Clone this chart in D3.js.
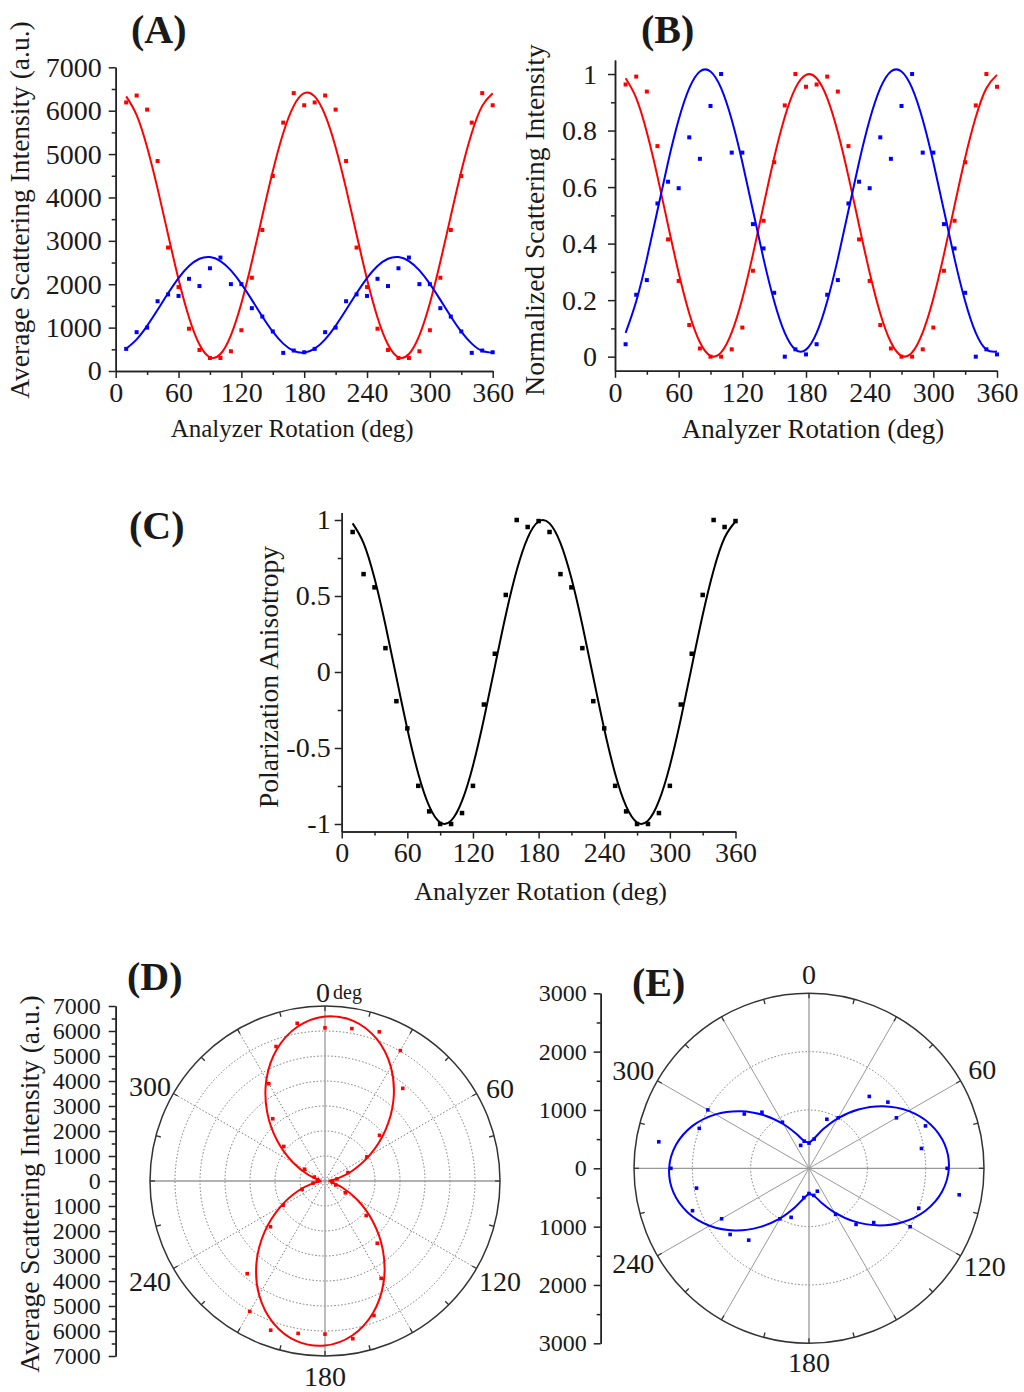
<!DOCTYPE html>
<html>
<head>
<meta charset="UTF-8">
<title>Analyzer rotation - scattering intensity</title>
<script src="https://d3js.org/d3.v7.min.js"></script>
<style>
  body { margin: 0; background: #fff; }
  svg text { font-family: "Liberation Serif", "Times New Roman", serif; fill: #1a1a1a; }
  .axis path, .axis line { stroke: #222; stroke-width: 1.5; fill: none; }
  .fit { fill: none; stroke-width: 2; }
</style>
</head>
<body>
<script>
// analyzer angles of the measured points (deg)
var angles = [10, 20, 30, 40, 50, 60, 70, 80, 90, 100, 110, 120, 130, 140, 150, 160, 170, 180,
              190, 200, 210, 220, 230, 240, 250, 260, 270, 280, 290, 300, 310, 320, 330, 340, 350, 360];
// angles at which the polar fit curves are sampled
var polarAngles = [0, 10, 20, 30, 40, 50, 60, 70, 80, 90, 100, 110, 120, 130, 140, 150, 160, 170,
                   180, 190, 200, 210, 220, 230, 240, 250, 260, 270, 280, 290, 300, 310, 320, 330, 340, 350];

// (A), (D) red measured intensity
var redIntensity = [6190, 6350, 6025, 4840, 2845, 1935, 975, 485, 300, 300, 455, 940, 2150, 3250, 4495, 5725, 6405, 6125,
                    6190, 6350, 6025, 4840, 2845, 1935, 975, 485, 300, 300, 455, 940, 2150, 3250, 4495, 5725, 6405, 6125];
// (A), (E) blue measured intensity
var blueIntensity = [510, 895, 1000, 1608, 1765, 1730, 2125, 1958, 2368, 2615, 2002, 2002, 1448, 1255, 912, 418, 472, 432,
                     510, 895, 1000, 1608, 1765, 1730, 2125, 1958, 2368, 2615, 2002, 2002, 1448, 1255, 912, 418, 472, 432];
// (A) fitted curves
var redFitA = [6329, 5897, 5159, 4204, 3146, 2115, 1234, 609, 316, 391, 823, 1561, 2516, 3574, 4605, 5486, 6111, 6404,
               6329, 5897, 5159, 4204, 3146, 2115, 1234, 609, 316, 391, 823, 1561, 2516, 3574, 4605, 5486, 6111, 6404];
var blueFitA = [515, 730, 1041, 1410, 1792, 2143, 2419, 2587, 2627, 2534, 2320, 2009, 1640, 1258, 907, 631, 463, 423,
                515, 730, 1041, 1410, 1792, 2143, 2419, 2587, 2627, 2534, 2320, 2009, 1640, 1258, 907, 631, 463, 423];

// (B) normalized
var redNorm = [0.963, 0.991, 0.938, 0.745, 0.415, 0.268, 0.112, 0.029, 0.0, 0.0, 0.026, 0.103, 0.304, 0.481, 0.688, 0.889, 1.0, 0.955,
               0.963, 0.991, 0.938, 0.745, 0.415, 0.268, 0.112, 0.029, 0.0, 0.0, 0.026, 0.103, 0.304, 0.481, 0.688, 0.889, 1.0, 0.955];
var blueNorm = [0.044, 0.219, 0.271, 0.542, 0.619, 0.596, 0.776, 0.700, 0.887, 1.0, 0.722, 0.722, 0.469, 0.383, 0.226, 0.0, 0.026, 0.008,
                0.044, 0.219, 0.271, 0.542, 0.619, 0.596, 0.776, 0.700, 0.887, 1.0, 0.722, 0.722, 0.469, 0.383, 0.226, 0.0, 0.026, 0.008];
var redFitB = [0.985, 0.915, 0.794, 0.638, 0.465, 0.297, 0.153, 0.051, 0.003, 0.015, 0.086, 0.206, 0.362, 0.535, 0.704, 0.848, 0.950, 0.997,
               0.985, 0.915, 0.794, 0.638, 0.465, 0.297, 0.153, 0.051, 0.003, 0.015, 0.086, 0.206, 0.362, 0.535, 0.704, 0.848, 0.950, 0.997];
var blueFitB = [0.084, 0.196, 0.346, 0.517, 0.688, 0.838, 0.950, 1.009, 1.009, 0.950, 0.838, 0.688, 0.517, 0.346, 0.196, 0.084, 0.025, 0.025,
                0.084, 0.196, 0.346, 0.517, 0.688, 0.838, 0.950, 1.009, 1.009, 0.950, 0.838, 0.688, 0.517, 0.346, 0.196, 0.084, 0.025, 0.018];

// (C) polarization anisotropy
var anisotropy = [0.921, 0.644, 0.557, 0.157, -0.192, -0.371, -0.749, -0.917, -1.0, -1.0, -0.928, -0.749, -0.214, 0.120, 0.507, 1.0, 0.954, 0.993,
                  0.921, 0.644, 0.557, 0.157, -0.192, -0.371, -0.749, -0.917, -1.0, -1.0, -0.928, -0.749, -0.214, 0.120, 0.507, 1.0, 0.954, 0.993];
var anisoFit = [0.978, 0.848, 0.616, 0.309, -0.035, -0.375, -0.669, -0.883, -0.990, -0.978, -0.848, -0.616, -0.309, 0.035, 0.375, 0.669, 0.883, 0.990,
                0.978, 0.848, 0.616, 0.309, -0.035, -0.375, -0.669, -0.883, -0.990, -0.978, -0.848, -0.616, -0.309, 0.035, 0.375, 0.669, 0.883, 0.990];

// (D), (E) polar fits
var redFitPolar = [6582, 6504, 6048, 5270, 4264, 3150, 2063, 1135, 476, 168, 246, 701, 1479, 2486, 3600, 4687, 5615, 6274,
                   6582, 6504, 6048, 5270, 4264, 3150, 2063, 1135, 476, 168, 246, 701, 1479, 2486, 3600, 4687, 5615, 6274];
var blueFitPolar = [442, 525, 715, 990, 1317, 1657, 1968, 2213, 2362, 2398, 2315, 2125, 1850, 1522, 1183, 872, 627, 478,
                    442, 525, 715, 990, 1317, 1657, 1968, 2213, 2362, 2398, 2315, 2125, 1850, 1522, 1183, 872, 627, 478];

// tick labels
var xTicks = [0, 60, 120, 180, 240, 300, 360];
var xMinor = [30, 90, 150, 210, 270, 330];
var polarLabels = [0, 60, 120, 180, 240, 300];

var RED = "#ff0000", BLUE = "#0000ff";

var svg = d3.select("body").append("svg")
    .attr("width", 1024)
    .attr("height", 1392)
    .style("background", "#fff");

function zip(xs, ys) {
    return xs.map(function (d, i) { return [d, ys[i]]; });
}

function styleAxis(g, size) {
    g.attr("font-family", null).attr("font-size", size);
    g.selectAll("text").attr("font-size", size);
}

// cartesian panel
function cartPanel(o) {
    var g = svg.append("g");
    var x = d3.scaleLinear().domain([0, 360]).range([o.x0, o.x1]);
    var y = d3.scaleLinear().domain(o.yDomain).range([o.yBottom, o.yTop]);

    g.append("g").attr("class", "axis")
        .attr("transform", "translate(0," + o.yBottom + ")")
        .call(d3.axisBottom(x).tickValues(xTicks).tickSize(7).tickSizeOuter(0).tickPadding(4))
        .call(styleAxis, 28);
    g.append("g").attr("class", "axis")
        .attr("transform", "translate(0," + o.yBottom + ")")
        .call(d3.axisBottom(x).tickValues(xMinor).tickSize(4).tickSizeOuter(0).tickFormat(""));

    g.append("g").attr("class", "axis")
        .attr("transform", "translate(" + o.x0 + ",0)")
        .call(d3.axisLeft(y).tickValues(o.yTicks).tickSize(7).tickSizeOuter(0)
            .tickPadding(o.yPad).tickFormat(function (d) { return String(d); }))
        .call(styleAxis, 28);
    g.append("g").attr("class", "axis")
        .attr("transform", "translate(" + o.x0 + ",0)")
        .call(d3.axisLeft(y).tickValues(o.yMinor).tickSize(4).tickSizeOuter(0).tickFormat(""));

    var line = d3.line()
        .x(function (d) { return x(d[0]); })
        .y(function (d) { return y(d[1]); })
        .curve(d3.curveNatural);

    o.series.forEach(function (s) {
        g.append("path").attr("class", "fit")
            .attr("d", line(zip(angles, s.fit)))
            .attr("stroke", s.color);
        g.append("g").selectAll("rect")
            .data(zip(angles, s.points))
            .enter().append("rect")
            .attr("x", function (d) { return x(d[0]) - s.size / 2; })
            .attr("y", function (d) { return y(d[1]) - s.size / 2; })
            .attr("width", s.size)
            .attr("height", s.size)
            .attr("fill", s.color);
    });

    g.append("text")
        .attr("x", (o.x0 + o.x1) / 2 + o.xTitleDx)
        .attr("y", o.xTitleY)
        .attr("text-anchor", "middle")
        .attr("font-size", o.xTitleSize)
        .text("Analyzer Rotation (deg)");
    g.append("text")
        .attr("transform", "translate(" + o.yTitleX + "," + o.yTitleY + ") rotate(-90)")
        .attr("text-anchor", "middle")
        .attr("font-size", 27.5)
        .text(o.yTitle);
}

cartPanel({
    x0: 115.7, x1: 492.7, yTop: 67.3, yBottom: 371,
    yDomain: [0, 7000],
    yTicks: [0, 1000, 2000, 3000, 4000, 5000, 6000, 7000],
    yMinor: [500, 1500, 2500, 3500, 4500, 5500, 6500],
    yPad: 7,
    series: [
        { points: redIntensity, fit: redFitA, color: RED, size: 4 },
        { points: blueIntensity, fit: blueFitA, color: BLUE, size: 4 }
    ],
    xTitleDx: -12, xTitleY: 437, xTitleSize: 25,
    yTitle: "Average Scattering Intensity (a.u.)", yTitleX: 29, yTitleY: 210
});

cartPanel({
    x0: 615, x1: 997, yTop: 59.9, yBottom: 370.8,
    yDomain: [-0.05, 1.05],
    yTicks: [0, 0.2, 0.4, 0.6, 0.8, 1],
    yMinor: [0.1, 0.3, 0.5, 0.7, 0.9],
    yPad: 11,
    series: [
        { points: redNorm, fit: redFitB, color: RED, size: 4 },
        { points: blueNorm, fit: blueFitB, color: BLUE, size: 4 }
    ],
    xTitleDx: 7, xTitleY: 438, xTitleSize: 27,
    yTitle: "Normalized Scattering Intensity", yTitleX: 544, yTitleY: 220
});

cartPanel({
    x0: 341.7, x1: 735.5, yTop: 512.4, yBottom: 831.6,
    yDomain: [-1.05, 1.05],
    yTicks: [-1, -0.5, 0, 0.5, 1],
    yMinor: [-0.75, -0.25, 0.25, 0.75],
    yPad: 4,
    series: [
        { points: anisotropy, fit: anisoFit, color: "#000", size: 4.5 }
    ],
    xTitleDx: 2, xTitleY: 900, xTitleSize: 26,
    yTitle: "Polarization Anisotropy", yTitleX: 278, yTitleY: 677
});

// polar panel
function polarPanel(o) {
    var g = svg.append("g");
    var r = d3.scaleLinear().domain([0, o.rMax]).range([0, o.R]);
    var c = g.append("g").attr("transform", "translate(" + o.cx + "," + o.cy + ")");
    var rad = Math.PI / 180;

    // rings
    c.selectAll("circle.ring")
        .data(o.rings)
        .enter().append("circle")
        .attr("r", function (d) { return r(d); })
        .attr("fill", "none")
        .attr("stroke", "#777")
        .attr("stroke-width", 1)
        .attr("stroke-dasharray", "1.5,2");

    // spokes every 30 deg
    var spokes = [30, 60, 120, 150, 210, 240, 300, 330];
    c.selectAll("line.spoke")
        .data(spokes)
        .enter().append("line")
        .attr("x1", 0).attr("y1", 0)
        .attr("x2", function (d) { return d3.pointRadial(d * rad, o.R)[0]; })
        .attr("y2", function (d) { return d3.pointRadial(d * rad, o.R)[1]; })
        .attr("stroke", o.spokeDotted ? "#777" : "#999")
        .attr("stroke-width", 1)
        .attr("stroke-dasharray", o.spokeDotted ? "1.5,2" : null);

    // main cross
    c.selectAll("line.cross")
        .data([0, 90])
        .enter().append("line")
        .attr("x1", function (d) { return d3.pointRadial(d * rad, o.R)[0]; })
        .attr("y1", function (d) { return d3.pointRadial(d * rad, o.R)[1]; })
        .attr("x2", function (d) { return d3.pointRadial((d + 180) * rad, o.R)[0]; })
        .attr("y2", function (d) { return d3.pointRadial((d + 180) * rad, o.R)[1]; })
        .attr("stroke", "#999")
        .attr("stroke-width", 1.3);

    // outer circle and its ticks
    c.append("circle").attr("r", o.R).attr("fill", "none")
        .attr("stroke", "#333").attr("stroke-width", 1.5);
    c.selectAll("line.otick")
        .data(d3.range(0, 360, 15))
        .enter().append("line")
        .attr("x1", function (d) { return d3.pointRadial(d * rad, o.R)[0]; })
        .attr("y1", function (d) { return d3.pointRadial(d * rad, o.R)[1]; })
        .attr("x2", function (d) { return d3.pointRadial(d * rad, o.R - 5)[0]; })
        .attr("y2", function (d) { return d3.pointRadial(d * rad, o.R - 5)[1]; })
        .attr("stroke", "#333")
        .attr("stroke-width", 1.3);

    // fit curve
    var curve = d3.lineRadial()
        .angle(function (d) { return d[0] * rad; })
        .radius(function (d) { return r(d[1]); })
        .curve(d3.curveCatmullRomClosed);
    c.append("path").attr("class", "fit")
        .attr("d", curve(zip(polarAngles, o.fit)))
        .attr("stroke", o.color);

    // points
    c.selectAll("rect.pt")
        .data(zip(angles, o.points))
        .enter().append("rect")
        .attr("x", function (d) { return d3.pointRadial(d[0] * rad, r(d[1]))[0] - 1.8; })
        .attr("y", function (d) { return d3.pointRadial(d[0] * rad, r(d[1]))[1] - 1.8; })
        .attr("width", 3.6)
        .attr("height", 3.6)
        .attr("fill", o.color);

    // angle labels
    c.selectAll("text.ang")
        .data(polarLabels)
        .enter().append("text")
        .attr("x", function (d, i) { return d3.pointRadial(d * rad, o.labelR[i])[0]; })
        .attr("y", function (d, i) { return d3.pointRadial(d * rad, o.labelR[i])[1] + o.labelDy[i]; })
        .attr("text-anchor", "middle")
        .attr("dominant-baseline", "central")
        .attr("font-size", 28)
        .each(function (d) {
            var t = d3.select(this);
            t.append("tspan").text(d);
            if (d === 0 && o.degUnit) {
                t.attr("text-anchor", "start").attr("x", -9);
                t.append("tspan").attr("dx", 3).attr("font-size", 20).text("deg");
            }
        });

    // linear radius axis at the left
    var yr = d3.scaleLinear().domain([-o.rMax, o.rMax]).range([o.cy + o.R, o.cy - o.R]);
    g.append("g").attr("class", "axis")
        .attr("transform", "translate(" + o.axisX + ",0)")
        .call(d3.axisLeft(yr).tickValues(o.axisTicks).tickSize(7).tickSizeOuter(0)
            .tickPadding(o.axisPad).tickFormat(function (d) { return String(Math.abs(d)); }))
        .call(styleAxis, 24);
    g.append("g").attr("class", "axis")
        .attr("transform", "translate(" + o.axisX + ",0)")
        .call(d3.axisLeft(yr).tickValues(o.axisMinor).tickSize(4).tickSizeOuter(0).tickFormat(""));
}

polarPanel({
    cx: 325, cy: 1181, R: 175, rMax: 7000,
    rings: [1000, 2000, 3000, 4000, 5000, 6000],
    spokeDotted: true,
    fit: redFitPolar, points: redIntensity, color: RED,
    degUnit: true,
    labelR: [192, 202, 202, 192, 202, 202], labelDy: [3, 8, -1, 3, -1, 6],
    axisX: 115.7, axisPad: 8,
    axisTicks: [-7000, -6000, -5000, -4000, -3000, -2000, -1000, 0, 1000, 2000, 3000, 4000, 5000, 6000, 7000],
    axisMinor: [-6500, -5500, -4500, -3500, -2500, -1500, -500, 500, 1500, 2500, 3500, 4500, 5500, 6500]
});

polarPanel({
    cx: 809, cy: 1168.3, R: 175, rMax: 3000,
    rings: [1000, 2000],
    spokeDotted: false,
    fit: blueFitPolar, points: blueIntensity, color: BLUE,
    degUnit: false,
    labelR: [195, 200, 203, 193, 203, 203], labelDy: [1, 1, -4, 1, -7, 3],
    axisX: 600.7, axisPad: 7,
    axisTicks: [-3000, -2000, -1000, 0, 1000, 2000, 3000],
    axisMinor: [-2500, -1500, -500, 500, 1500, 2500]
});

// D's radius axis title
svg.append("text")
    .attr("transform", "translate(39,1184) rotate(-90)")
    .attr("text-anchor", "middle")
    .attr("font-size", 27.5)
    .text("Average Scattering Intensity (a.u.)");

// panel letters
var panelLetters = [["(A)", 131, 43], ["(B)", 641, 43], ["(C)", 129, 539], ["(D)", 127, 990], ["(E)", 632, 996]];
svg.selectAll("text.panel")
    .data(panelLetters)
    .enter().append("text")
    .attr("x", function (d) { return d[1]; })
    .attr("y", function (d) { return d[2]; })
    .attr("font-size", 40)
    .attr("font-weight", "bold")
    .text(function (d) { return d[0]; });
</script>
</body>
</html>
